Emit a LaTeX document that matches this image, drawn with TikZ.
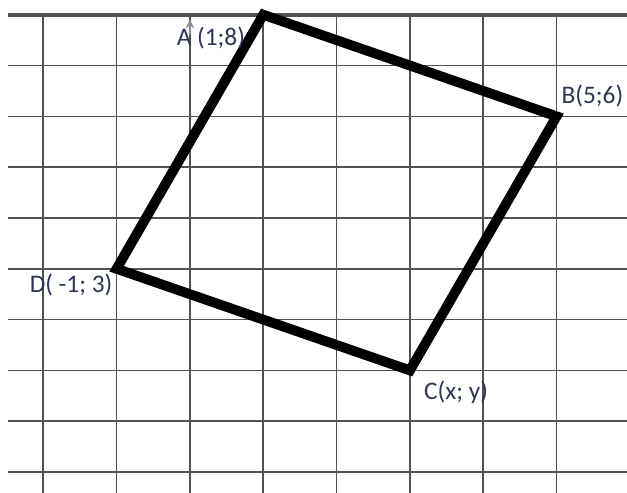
\documentclass[tikz,border=0pt]{standalone}
\usepackage{fontspec}
\setmainfont{Carlito}
\usetikzlibrary{arrows.meta,positioning}
\definecolor{labelink}{RGB}{45,55,85}

\begin{document}
\begin{tikzpicture}[
    x=1.833cm, y=1.27cm,
    font=\fontsize{18}{20}\selectfont,
    gridline/.style={draw=black!68, line width=1.2pt},
    side/.style={line width=7pt, line join=miter},
    vlabel/.style={text=labelink, inner sep=0pt},
    axistip/.style={draw=black!45, line width=1.2pt, -{Stealth[length=6pt,width=6pt]}}
]
\useasboundingbox (-2.59,-1.41) rectangle (5.96,8.29);
\fill[white] (-2.59,-1.41) rectangle (5.96,8.29);

% squared paper
\foreach \y in {-1,...,7}
    \draw[gridline] (-2.48,\y) -- (5.96,\y);
\draw[gridline, line width=2.6pt] (-2.48,8) -- (5.96,8);
\foreach \x in {-2,...,5}
    \draw[gridline] (\x,8.02) -- (\x,-1.41);
\draw[axistip] (0,7.6) -- (0,7.9);

% vertices
\coordinate (A) at (1,8);
\coordinate (B) at (5,6);
\coordinate (C) at (3,1);
\coordinate (D) at (-1,3);

\draw[side] (A) -- (B) -- (C) -- (D) -- cycle;

\node[vlabel, anchor=north east, xshift=-0.45cm, yshift=-0.3cm] (labelA) at (A) {A (1;8)};
\node[vlabel, anchor=south west, xshift=0.12cm, yshift=0.22cm] (labelB) at (B) {B(5;6)};
\node[vlabel, anchor=north west, xshift=0.35cm, yshift=-0.25cm] (labelC) at (C) {C(x; y)};
\node[vlabel, anchor=north east, xshift=-0.1cm, yshift=-0.12cm] (labelD) at (D) {D( -1; 3)};
\end{tikzpicture}
\end{document}
